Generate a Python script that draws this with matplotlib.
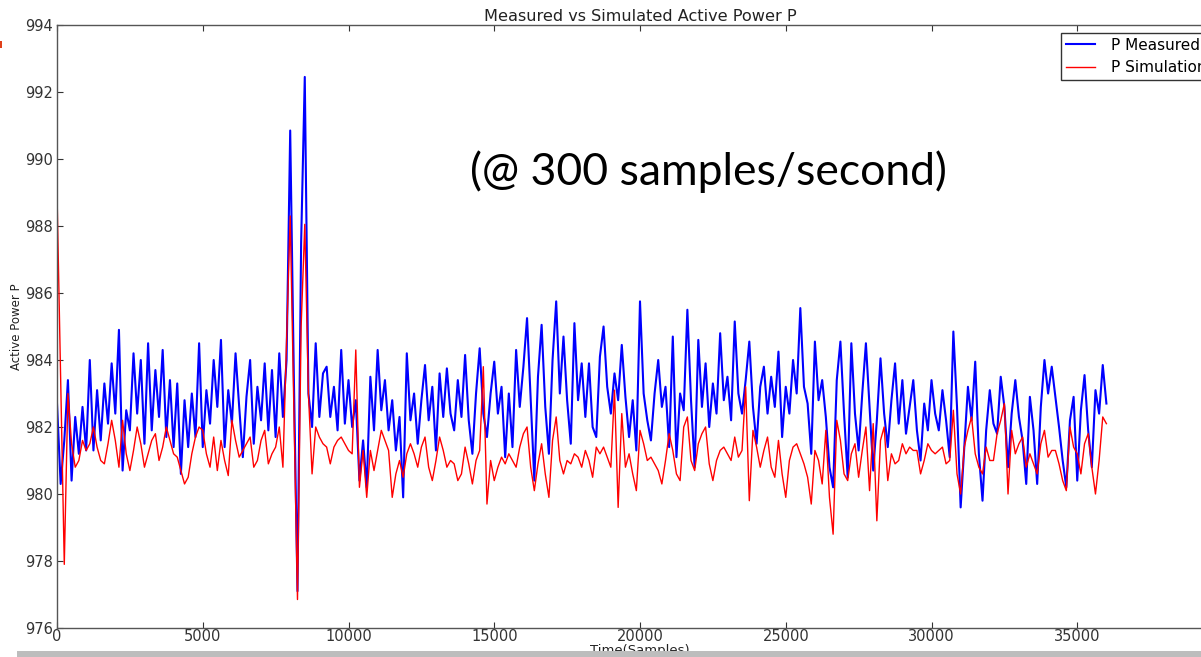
import matplotlib
matplotlib.use("Agg")
import matplotlib.pyplot as plt
import numpy as np
from matplotlib.patches import Rectangle

W, H = 1201, 657

# one reading every 125 samples (300 samples/second)
STEP = 125

p_measured = [
    982.7, 980.3, 981.6, 983.4, 980.4, 982.3, 981.2, 982.6, 981.3, 984.0,
    981.3, 983.1, 981.6, 983.3, 982.1, 983.9, 982.4, 984.9, 980.7, 982.5,
    981.9, 984.2, 982.4, 984.0, 981.5, 984.5, 981.9, 983.7, 982.3, 984.3,
    981.7, 983.4, 981.4, 983.3, 980.6, 982.8, 981.4, 983.0, 981.7, 984.5,
    981.4, 983.1, 982.1, 984.0, 982.6, 984.6, 981.4, 983.1, 982.1, 984.2,
    982.6, 981.1, 982.9, 984.0, 981.5, 983.2, 982.2, 983.9, 981.9, 983.7,
    981.7, 984.2, 982.3, 984.0, 990.85, 983.5, 977.1, 987.5, 992.45, 983.0,
    982.0, 984.5, 982.3, 983.6, 983.8, 982.3, 983.2, 981.9, 984.3, 982.1,
    983.4, 982.0, 982.8, 980.4, 981.6, 980.2, 983.5, 981.9, 984.3, 982.5,
    983.4, 981.9, 982.8, 981.3, 982.3, 979.9, 984.2, 982.2, 983.0, 981.5,
    982.8, 983.85, 982.2, 983.2, 981.3, 983.6, 982.3, 983.75, 982.4, 981.9,
    983.4, 982.3, 984.15, 982.2, 981.2, 983.0, 984.35, 982.4, 981.7, 983.0,
    983.95, 982.4, 983.2, 981.1, 983.0, 981.4, 984.3, 982.6, 983.8, 985.25,
    982.8, 980.4, 983.5, 985.05, 982.6, 981.2, 984.0, 985.75, 983.0, 984.7,
    982.8, 981.5, 985.1, 982.8, 983.9, 982.3, 983.9, 982.0, 981.7, 984.1,
    985.0, 983.2, 982.4, 983.6, 982.8, 984.45, 982.9, 981.7, 982.8, 981.3,
    985.75, 983.0, 982.2, 981.6, 983.0, 984.0, 982.6, 983.2, 981.4, 984.7,
    981.1, 983.0, 982.5, 985.5, 982.8, 980.8, 984.6, 982.6, 983.9, 982.0,
    983.3, 982.4, 984.8, 982.8, 983.5, 982.2, 985.15, 983.0, 982.4, 983.4,
    984.55, 982.6, 981.5, 983.2, 983.8, 982.4, 983.5, 982.6, 984.25, 981.7,
    983.2, 982.4, 984.0, 983.0, 985.55, 983.2, 982.7, 981.2, 984.55, 982.8,
    983.4, 982.3, 980.8, 980.2, 983.4, 984.55, 982.4, 980.5, 984.5, 982.4,
    981.3, 983.0, 984.5, 982.6, 980.7, 982.2, 984.05, 982.4, 981.4, 982.8,
    983.9, 982.1, 983.4, 981.8, 982.6, 983.4, 981.9, 981.0, 982.7, 981.9,
    983.4, 982.4, 981.9, 983.1, 982.2, 981.1, 984.85, 982.6, 979.6, 981.4,
    983.2, 982.2, 983.95, 981.2, 979.8, 981.9, 983.1, 982.1, 981.8, 983.5,
    982.6, 980.8, 982.4, 983.4, 982.3, 981.6, 980.3, 982.9, 981.9, 980.3,
    982.6, 984.0, 983.0, 983.8, 982.9, 982.0, 981.0, 980.2, 982.2, 982.9,
    980.4, 982.5, 983.55, 981.9, 980.8, 983.1, 982.4, 983.85, 982.7,
]

p_simulation = [
    989.0, 983.5, 977.9, 983.0, 981.5, 980.8, 981.0, 981.6, 981.3, 981.5,
    982.0, 981.4, 981.0, 980.9, 981.5, 982.2, 981.6, 980.8, 982.2, 981.2,
    980.7, 981.3, 982.0, 981.5, 980.8, 981.2, 981.6, 981.8, 981.0, 981.4,
    982.0, 981.6, 981.2, 981.1, 980.7, 980.3, 980.5, 981.2, 981.7, 982.0,
    981.9, 981.2, 980.8, 981.7, 980.7, 981.6, 981.0, 980.55, 982.2, 981.6,
    981.1, 981.3, 981.5, 981.7, 980.8, 981.0, 981.6, 981.9, 980.9, 981.2,
    981.4, 982.0, 980.8, 984.5, 988.3, 982.5, 976.85, 985.0, 988.05, 983.0,
    980.6, 982.0, 981.7, 981.5, 981.4, 980.9, 981.4, 981.6, 981.7, 981.5,
    981.3, 981.2, 984.3, 980.2, 981.3, 979.9, 981.3, 980.7, 981.3, 981.9,
    981.6, 981.3, 979.9, 980.6, 981.0, 980.5, 981.2, 981.5, 981.2, 980.8,
    981.4, 981.7, 980.8, 980.4, 981.0, 981.7, 981.3, 980.8, 981.0, 980.9,
    980.4, 980.6, 981.4, 980.9, 980.3, 981.0, 981.3, 983.8, 979.7, 981.0,
    980.4, 980.8, 981.1, 980.9, 981.2, 981.0, 980.8, 981.4, 981.8, 982.0,
    980.8, 980.1, 980.9, 981.5, 980.6, 979.9, 981.6, 982.3, 981.0, 980.6,
    981.0, 980.9, 981.2, 981.1, 980.8, 981.3, 981.0, 980.5, 981.4, 981.2,
    981.4, 981.1, 980.8, 983.1, 979.6, 982.4, 980.8, 981.2, 980.6, 980.1,
    981.9, 981.5, 981.0, 981.1, 980.9, 980.7, 980.3, 981.0, 981.8, 981.3,
    980.6, 980.4, 982.0, 982.3, 981.0, 980.7, 981.5, 981.8, 982.0, 980.9,
    980.4, 981.0, 981.3, 981.4, 981.2, 981.0, 981.7, 981.1, 981.3, 983.2,
    979.8, 981.9, 981.4, 980.8, 981.3, 981.7, 980.8, 980.5, 981.6, 980.6,
    979.9, 981.0, 981.4, 981.5, 981.2, 980.9, 980.5, 979.7, 981.3, 981.0,
    980.3, 981.9, 979.9, 978.8, 982.2, 981.6, 980.6, 980.4, 981.2, 981.5,
    980.5, 981.3, 982.0, 980.1, 982.1, 979.2, 981.6, 982.0, 980.4, 981.2,
    980.9, 981.0, 981.5, 981.2, 981.4, 981.3, 981.3, 980.6, 981.0, 981.5,
    981.3, 981.2, 981.3, 981.4, 980.9, 981.0, 982.5, 980.6, 980.0, 981.4,
    981.9, 982.3, 981.2, 980.8, 980.6, 981.4, 981.0, 981.0, 981.8, 982.2,
    982.7, 980.0, 981.9, 981.2, 981.5, 981.7, 980.8, 981.2, 980.9, 980.6,
    981.5, 981.9, 981.1, 981.3, 981.3, 980.9, 980.4, 980.1, 982.0, 981.4,
    981.2, 980.6, 981.5, 981.8, 980.8, 980.0, 981.0, 982.3, 982.1,
]

x_ticks = [0, 5000, 10000, 15000, 20000, 25000, 30000, 35000]
y_ticks = [976, 978, 980, 982, 984, 986, 988, 990, 992, 994]

fig = plt.figure(figsize=(W / 100, H / 100), dpi=100)
fig.patch.set_facecolor("white")

# axes run past the right edge of the picture (the screenshot is cropped)
ax = fig.add_axes([57 / W, (H - 628) / H, (1223 - 57) / W, (628 - 25) / H])

t_meas = np.arange(len(p_measured)) * STEP
t_sim = np.arange(len(p_simulation)) * STEP
ax.plot(t_meas, p_measured, color="#0000ff", lw=1.5, label="P Measured")
ax.plot(t_sim, p_simulation, color="#ff0000", lw=1.0, label="P Simulation")

ax.set_xlim(0, 40000)
ax.set_ylim(976, 994)
ax.set_xticks(x_ticks)
ax.set_yticks(y_ticks)
ax.tick_params(direction="in", length=4, width=0.8, top=True, right=True,
               labelsize=10.5, colors="#333333", pad=3)
ax.tick_params(axis="x", pad=1)
for sp in ax.spines.values():
    sp.set_color("#555555")
    sp.set_linewidth(1.0)

ax.set_title("Measured vs Simulated Active Power P", fontsize=11.6,
             color="#222222", pad=3)
ax.set_ylabel("Active Power P", fontsize=8.5, color="#222222")
ax.yaxis.set_label_coords((23 - 57) / 1166, 0.5)
ax.set_xlabel("Time(Samples)", fontsize=9.5, color="#222222", labelpad=0)

leg = ax.legend(loc="upper left", bbox_to_anchor=(1061 / W, 1 - 33 / H),
                bbox_transform=fig.transFigure, fontsize=11, frameon=True,
                fancybox=False, borderaxespad=0, borderpad=0.3,
                handlelength=1.9, handletextpad=1.1, labelspacing=0.5)
leg.get_frame().set_edgecolor("black")
leg.get_frame().set_linewidth(1.0)

fig.text(708 / W, 1 - 172 / H, "(@ 300 samples/second)", fontsize=32,
         family="Lato", ha="center", va="center", color="black")

# screenshot leftovers: grey strip at the bottom, small red mark at top left
fig.patches.append(Rectangle((17 / W, 0), 1, 6 / H, transform=fig.transFigure,
                             facecolor="#bdbdbd", edgecolor="none", zorder=10))
fig.patches.append(Rectangle((0, 1 - 48 / H), 2 / W, 7 / H,
                             transform=fig.transFigure, facecolor="#e0401a",
                             edgecolor="none", zorder=10))

fig.savefig("out.png", dpi=100)
